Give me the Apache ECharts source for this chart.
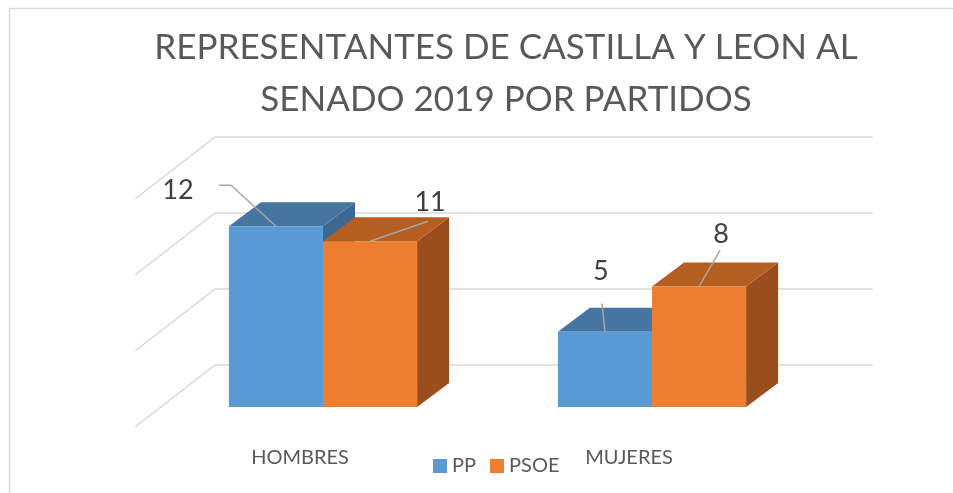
<!DOCTYPE html>
<html>
<head>
<meta charset="utf-8">
<script src="https://cdn.jsdelivr.net/npm/echarts@6/dist/echarts.min.js"></script>
<style>
    html, body { margin: 0; padding: 0; background: #fff; }
    #chart { width: 953px; height: 493px; }
</style>
</head>
<body>
<div id="chart"></div>
<script>
var categories = ['HOMBRES', 'MUJERES'];
var ppValues = [12, 5];
var psoeValues = [11, 8];
var wallTicks = [0, 5, 10, 15];

// where the value labels sit, relative to the top front edge of each bar
var ppLabels = [
    { text: [-98, -36], line: [[-45, -41], [-57, -41]] },
    { text: [-4, -60], line: [[-3, -28]] }
];
var psoeLabels = [
    { text: [60, -39], line: [[58, -20]] },
    { text: [22, -52], line: [[21, -36]] }
];

var FONT = 'Lato';
var DX = 32, DY = -24; // depth of the bars

function bar3d(slot, colors, labels) {
    return function (params, api) {
        var i = api.value(0);
        var v = api.value(1);
        var top = api.coord([i, v]);
        var base = api.coord([i, 0]);
        var w = api.size([1, 0])[0] * 0.286;
        var x0 = slot === 0 ? top[0] - w : top[0];
        var x1 = x0 + w;
        var y0 = top[1], y1 = base[1];
        var cx = (x0 + x1) / 2;
        var lab = labels[i];
        var pts = [[cx, y0]].concat(lab.line.map(function (p) { return [cx + p[0], y0 + p[1]]; }));
        return {
            type: 'group',
            children: [
                { type: 'polygon', shape: { points: [[x1, y0], [x1 + DX, y0 + DY], [x1 + DX, y1 + DY], [x1, y1]] }, style: { fill: colors.side } },
                { type: 'polygon', shape: { points: [[x0, y0], [x0 + DX, y0 + DY], [x1 + DX, y0 + DY], [x1, y0]] }, style: { fill: colors.top } },
                { type: 'rect', shape: { x: x0, y: y0, width: w, height: y1 - y0 }, style: { fill: colors.front } },
                { type: 'polyline', shape: { points: pts }, style: { stroke: '#a6a6a6', lineWidth: 1.5, fill: null } },
                {
                    type: 'text', x: cx + lab.text[0], y: y0 + lab.text[1],
                    style: { text: String(v), fill: '#404040', font: '27px ' + FONT, align: 'center', verticalAlign: 'middle' }
                }
            ]
        };
    };
}

var chart = echarts.init(document.getElementById('chart'));

var option = {
    backgroundColor: '#fff',
    animation: false,
    title: {
        text: 'REPRESENTANTES DE CASTILLA Y LEON AL\nSENADO 2019 POR PARTIDOS',
        left: 506,
        top: 22,
        padding: 0,
        textAlign: 'center',
        textStyle: { fontFamily: FONT, fontSize: 35, fontWeight: 'normal', color: '#595959', lineHeight: 52 }
    },
    legend: {
        left: 428,
        top: 451,
        itemWidth: 14,
        itemHeight: 14,
        itemGap: 14,
        icon: 'rect',
        textStyle: { fontFamily: FONT, fontSize: 20, color: '#595959' },
        data: ['PP', 'PSOE']
    },
    graphic: [{
        type: 'rect', z: -1,
        shape: { x: 9.5, y: 8.5, width: 1000, height: 600 },
        style: { fill: null, stroke: '#d9d9d9', lineWidth: 1.5 }
    }],
    grid: [
        { left: 158.5, right: 136.5, top: 181, bottom: 86 },
        { left: 215, right: 80, top: 137, bottom: 128 }
    ],
    xAxis: [{
        type: 'category',
        gridIndex: 0,
        data: categories,
        axisLine: { show: false },
        axisTick: { show: false },
        axisLabel: { fontFamily: FONT, fontSize: 20, color: '#595959', margin: 41, padding: [0, 46, 0, 0] }
    }, {
        type: 'value', gridIndex: 1, min: 0, max: 1, show: false
    }],
    yAxis: [{
        type: 'value', gridIndex: 0, min: 0, max: 15, show: false
    }, {
        type: 'value', gridIndex: 1, min: 0, max: 15, interval: 5,
        axisLine: { show: false },
        axisTick: { show: false },
        axisLabel: { show: false },
        splitLine: { lineStyle: { color: '#d9d9d9', width: 1.5 } }
    }],
    series: [{
        type: 'custom',
        name: 'wall',
        xAxisIndex: 1,
        yAxisIndex: 1,
        silent: true,
        clip: false,
        data: wallTicks.map(function (t) { return [0, t]; }),
        renderItem: function (params, api) {
            var p = api.coord([0, api.value(1)]);
            return {
                type: 'line',
                shape: { x1: p[0], y1: p[1], x2: p[0] - 80, y2: p[1] + 62 },
                style: { stroke: '#d9d9d9', lineWidth: 1.5 }
            };
        }
    }, {
        type: 'custom',
        name: 'PP',
        xAxisIndex: 0,
        yAxisIndex: 0,
        clip: false,
        itemStyle: { color: '#5b9bd5' },
        encode: { x: 0, y: 1 },
        data: ppValues.map(function (v, i) { return [i, v]; }),
        renderItem: bar3d(0, { front: '#5b9bd5', top: '#4575a0', side: '#3d6891' }, ppLabels)
    }, {
        type: 'custom',
        name: 'PSOE',
        xAxisIndex: 0,
        yAxisIndex: 0,
        clip: false,
        itemStyle: { color: '#ed7d31' },
        encode: { x: 0, y: 1 },
        data: psoeValues.map(function (v, i) { return [i, v]; }),
        renderItem: bar3d(1, { front: '#ed7d31', top: '#b45e22', side: '#9a4d1d' }, psoeLabels)
    }]
};

chart.setOption(option);
</script>
</body>
</html>
